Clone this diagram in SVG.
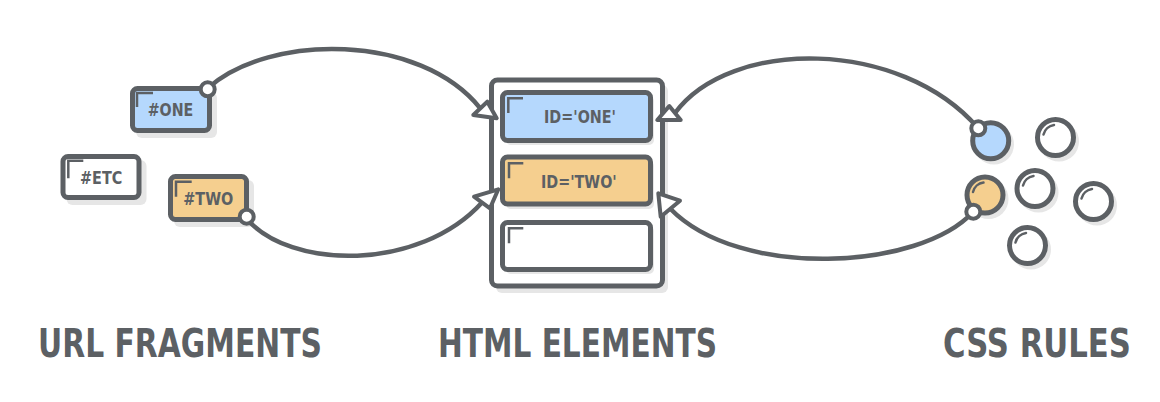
<svg xmlns="http://www.w3.org/2000/svg" width="1160" height="402" viewBox="0 0 1160 402">
<style>
.ln{fill:none;stroke:#5c6064;stroke-width:4.5;stroke-linecap:round}
.box{stroke:#5c6064;stroke-width:5;stroke-linejoin:round}
.sh{fill:#e6e6e6}
.mk{fill:none;stroke:#5c6064;stroke-width:2.5}
.hl{fill:none;stroke:#5c6064;stroke-width:2.5;stroke-linecap:round}
.dot{fill:#ffffff;stroke:#5c6064;stroke-width:4}
.arr{fill:#ffffff;stroke:#5c6064;stroke-width:4;stroke-linejoin:round}
.t{font-family:"DejaVu Sans","Liberation Sans",sans-serif;font-weight:bold;font-stretch:condensed;fill:#5c6064}
.s{font-size:18px}
.big{font-size:39px}
.blue{fill:#b5d8fd}
.orange{fill:#f5cf8f}
.white{fill:#ffffff}
</style>

<g id="url-one">
<rect class="sh" x="136" y="92" width="81" height="46" rx="6"/>
<rect class="box blue" x="132.5" y="88.5" width="77" height="42" rx="5"/>
<path class="mk" d="M137,107 V93 H153"/>
<text class="t s" x="147.7" y="116" textLength="45.6" lengthAdjust="spacingAndGlyphs">#ONE</text>
</g>
<g id="url-etc">
<rect class="sh" x="66.5" y="160" width="80" height="45" rx="6"/>
<rect class="box white" x="63" y="156.5" width="76" height="41" rx="5"/>
<path class="mk" d="M68.3,178.3 V160.7 H83.3"/>
<text class="t s" x="80" y="184" textLength="42.3" lengthAdjust="spacingAndGlyphs">#ETC</text>
</g>
<g id="url-two">
<rect class="sh" x="174" y="180" width="80" height="47" rx="6"/>
<rect class="box orange" x="170.5" y="176.5" width="76" height="43" rx="5"/>
<path class="mk" d="M176,196.7 V181.7 H191.7"/>
<text class="t s" x="183.3" y="205" textLength="50" lengthAdjust="spacingAndGlyphs">#TWO</text>
</g>

<g id="html-elements">
<rect class="sh" x="496" y="85" width="172" height="208" rx="6"/>
<rect class="box white" x="491.5" y="80" width="171" height="206" rx="6"/>
</g>
<g id="html-one">
<rect class="sh" x="506" y="96" width="148" height="49" rx="5"/>
<rect class="box blue" x="502.5" y="92.5" width="148" height="48" rx="5"/>
<path class="mk" d="M508.3,113 V98.3 H523"/>
<text class="t s" x="544" y="123.3" textLength="72" lengthAdjust="spacingAndGlyphs">ID='ONE'</text>
</g>
<g id="html-two">
<rect class="sh" x="506" y="161" width="148" height="48" rx="5"/>
<rect class="box orange" x="502.5" y="157" width="148" height="47" rx="5"/>
<path class="mk" d="M509,178.3 V163.3 H523.3"/>
<text class="t s" x="541" y="188.3" textLength="75.7" lengthAdjust="spacingAndGlyphs">ID='TWO'</text>
</g>
<g id="html-empty">
<rect class="sh" x="506" y="226" width="148" height="48" rx="5"/>
<rect class="box white" x="502.5" y="222.5" width="148" height="47" rx="5"/>
<path class="mk" d="M509,243.3 V228.3 H523.3"/>
</g>

<g id="css-one">
<circle class="sh" cx="994" cy="144.5" r="20"/>
<circle class="box blue" cx="990.7" cy="140.7" r="18"/>
</g>
<g id="css-two">
<circle class="sh" cx="988.5" cy="199" r="20"/>
<circle class="box orange" cx="985" cy="195" r="18"/>
<path class="hl" d="M973,192 A12.5,12.5 0 0 1 983.5,182.6"/>
</g>
<g id="css-rule-a">
<circle class="sh" cx="1059" cy="141.5" r="20"/>
<circle class="box white" cx="1055.5" cy="137.5" r="18"/>
<path class="hl" d="M1043.5,134.5 A12.5,12.5 0 0 1 1054,125"/>
</g>
<g id="css-rule-b">
<circle class="sh" cx="1038.5" cy="192.5" r="20"/>
<circle class="box white" cx="1035" cy="188.5" r="18"/>
<path class="hl" d="M1023,185.5 A12.5,12.5 0 0 1 1033.5,176"/>
</g>
<g id="css-rule-c">
<circle class="sh" cx="1097" cy="205.5" r="20"/>
<circle class="box white" cx="1093.5" cy="201.5" r="18"/>
<path class="hl" d="M1081.5,198.5 A12.5,12.5 0 0 1 1092,189"/>
</g>
<g id="css-rule-d">
<circle class="sh" cx="1031" cy="249.5" r="20"/>
<circle class="box white" cx="1027.5" cy="245.5" r="18"/>
<path class="hl" d="M1015.5,242.5 A12.5,12.5 0 0 1 1026,233"/>
</g>

<g id="connectors">
<path class="ln" d="M208,88 C270,33 420,33 480.3,108.3"/>
<path class="ln" d="M245,217 C290,271 420,271 482,202.5"/>
<path class="ln" d="M978,128 C900,38 730,38 675,113"/>
<path class="ln" d="M973,212 C920,270 740,280 670.3,208.7"/>
<polygon class="arr" points="496.7,118.3 473.3,115 487.3,101.7"/>
<polygon class="arr" points="498.3,189.3 474,196.7 490,208.3"/>
<polygon class="arr" points="657.3,120 680.7,120 669.3,106"/>
<polygon class="arr" points="658.3,193.3 680,200.7 660.7,216.7"/>
<circle class="dot" cx="207.7" cy="89.3" r="7"/>
<circle class="dot" cx="246.7" cy="216.7" r="7"/>
<circle class="dot" cx="978.3" cy="128.3" r="7"/>
<circle class="dot" cx="973.3" cy="211.7" r="7"/>
</g>

<g id="labels">
<text class="t big" x="38" y="357" textLength="284" lengthAdjust="spacingAndGlyphs">URL FRAGMENTS</text>
<text class="t big" x="438" y="357" textLength="279" lengthAdjust="spacingAndGlyphs">HTML ELEMENTS</text>
<text class="t big" x="943" y="357" textLength="188" lengthAdjust="spacingAndGlyphs">CSS RULES</text>
</g>
</svg>
